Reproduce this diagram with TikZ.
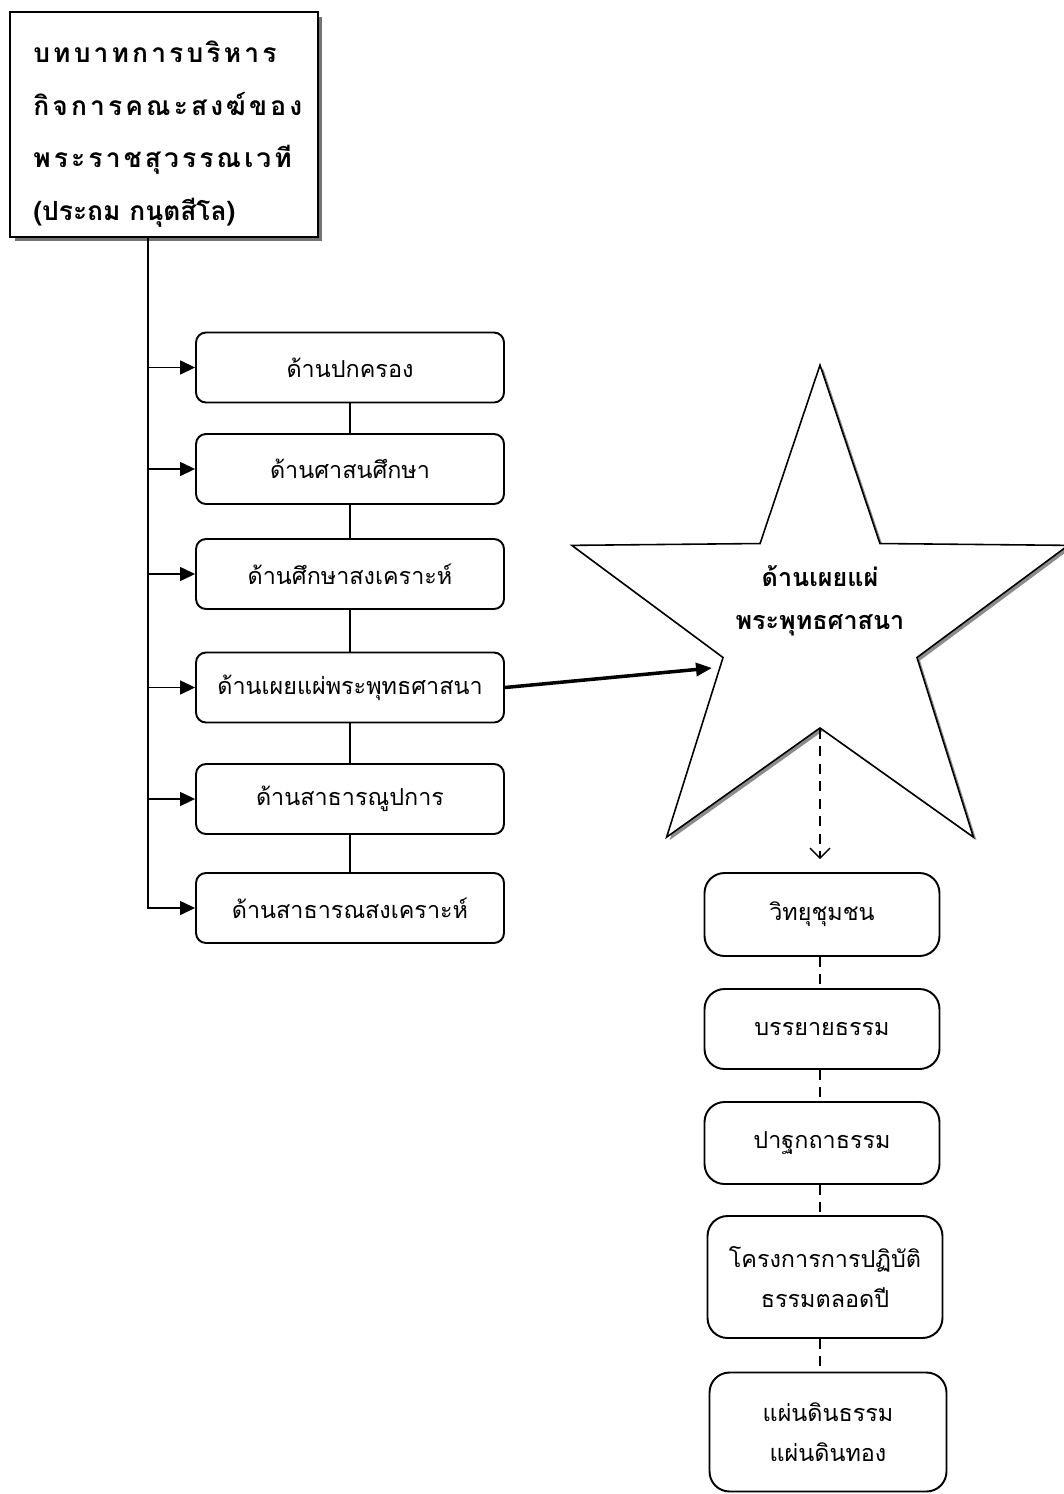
\documentclass[tikz,border=0pt]{standalone}
\usepackage{fontspec}
\newfontfamily\thaifont[Script=Thai]{Loma}
\newfontfamily\thaispaced[Script=Thai,LetterSpace=12]{Loma}
\usetikzlibrary{arrows.meta,shapes.geometric,shadows}
\tikzset{
  box/.style={
    draw=black,
    line width=1.1pt,
    fill=white,
    align=center,
    inner sep=0pt,
    font=\thaifont\fontsize{13.3}{23}\selectfont
  },
  side-box/.style={box, rounded corners=0.2cm, minimum width=6.16cm, minimum height=1.4cm},
  sub-box/.style={box, rounded corners=0.4cm, minimum width=4.7cm},
  title-box/.style={
    draw=black,
    line width=1.1pt,
    fill=white,
    minimum width=6.16cm,
    minimum height=4.5cm,
    drop shadow={shadow xshift=0.09cm, shadow yshift=-0.09cm, fill=black!55, opacity=1}
  },
  title-text/.style={align=left, inner sep=0pt, font=\thaifont\bfseries\fontsize{15}{30}\selectfont},
  star-shape/.style={
    star, star points=5, star point ratio=2.56,
    minimum size=10.44cm, inner sep=0pt,
    draw=black, line width=0.9pt, fill=white,
    drop shadow={shadow xshift=0.06cm, shadow yshift=-0.06cm, fill=black!45, opacity=1}
  },
  star-text/.style={align=center, font=\thaifont\bfseries\fontsize{14.3}{24.5}\selectfont},
  link/.style={line width=0.8pt},
  link-dash/.style={line width=0.8pt, dash pattern=on 0.2cm off 0.15cm},
  feed/.style={link, -{Triangle[length=0.3cm,width=0.28cm]}},
  push/.style={line width=2pt, -{Triangle[length=0.32cm,width=0.26cm]}}
}

\begin{document}
\begin{tikzpicture}[x=0.02cm, y=-0.02cm]
  \useasboundingbox (0,0) rectangle (1063,1494);

  % Title
  \node[title-box] (head) at (164,124.5) {};
  \node[title-text, anchor=west] (head-text) at (33,134) {%
    {\thaispaced บทบาทการบริหาร}\\
    {\thaispaced กิจการคณะสงฆ์ของ}\\
    {\thaispaced พระราชสุวรรณเวที}\\
    (ประถม กนุตสีโล)};

  % Left column
  \node[side-box] (gov)     at (350,367.5) {ด้านปกครอง};
  \node[side-box] (edu)     at (350,469)   {ด้านศาสนศึกษา};
  \node[side-box] (welfare) at (350,574)   {ด้านศึกษาสงเคราะห์};
  \node[side-box] (spread)  at (350,687.5) {ด้านเผยแผ่พระพุทธศาสนา};
  \node[side-box] (public)  at (350,799)   {ด้านสาธารณูปการ};
  \node[side-box] (aid)     at (350,908)   {ด้านสาธารณสงเคราะห์};

  % Trunk and branches
  \path (head.south) ++(-16,0) coordinate (trunk-top);
  \draw[feed] (trunk-top) |- (aid.west);
  \foreach \b in {gov,edu,welfare,spread,public} {
    \draw[feed] (trunk-top |- \b.west) -- (\b.west);
  }
  \foreach \a/\b in {gov/edu,edu/welfare,welfare/spread,spread/public,public/aid} {
    \draw[link] (\a) -- (\b);
  }

  % Star
  \node[star-shape] (star) at (820,626) {};
  \node[star-text] (star-label) at (820,601) {ด้านเผยแผ่\\พระพุทธศาสนา};
  \coordinate (star-in) at (712,668);
  \draw[push] (spread.east) -- (star-in);

  % Right column
  \node[sub-box, minimum height=1.66cm] (radio)   at (822,914.5) {วิทยุชุมชน};
  \node[sub-box, minimum height=1.6cm]  (lecture) at (822,1029)  {บรรยายธรรม};
  \node[sub-box, minimum height=1.64cm] (talk)    at (822,1143)  {ปาฐกถาธรรม};
  \node[sub-box, minimum height=2.44cm] (retreat) at (825,1277)  {โครงการการปฏิบัติ\\ธรรมตลอดปี};
  \node[sub-box, minimum height=2.38cm, minimum width=4.74cm] (land) at (828,1432) {แผ่นดินธรรม\\แผ่นดินทอง};

  \draw[link-dash, -{Straight Barb[length=0.2cm,width=0.4cm]}, shorten >=0.26cm]
    (star.inner point 3) -- (star.inner point 3 |- radio.north);
  \foreach \a/\b in {radio/lecture,lecture/talk,talk/retreat,retreat/land} {
    \draw[link-dash] (\a.south -| star.inner point 3) -- (\b.north -| star.inner point 3);
  }
\end{tikzpicture}
\end{document}
